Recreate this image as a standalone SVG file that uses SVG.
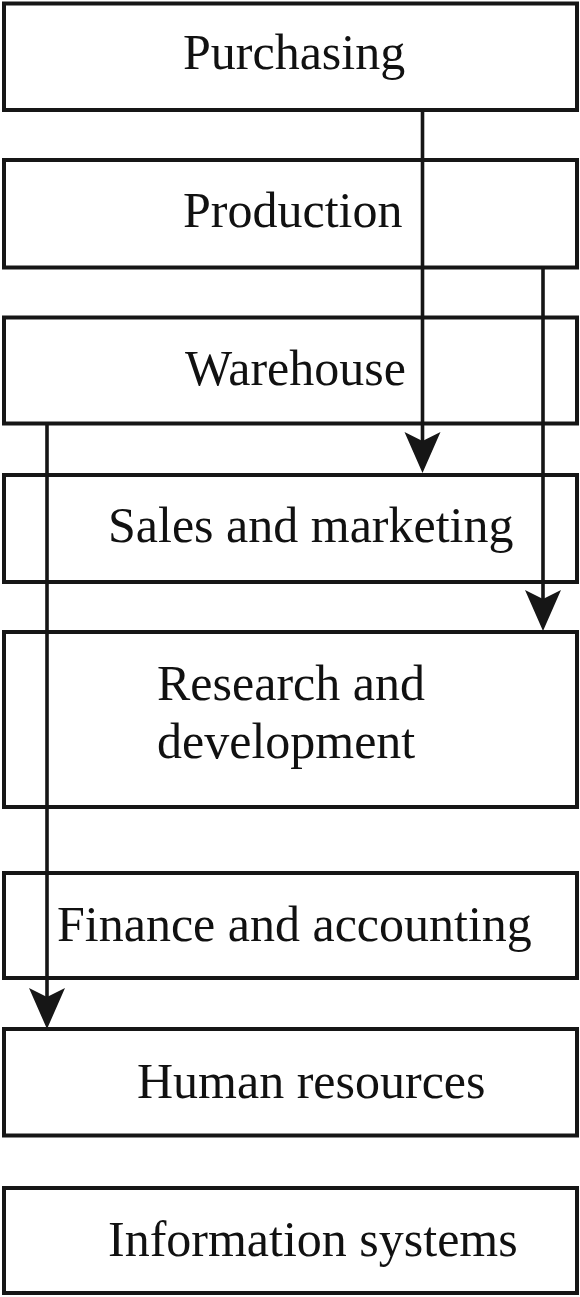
<svg xmlns="http://www.w3.org/2000/svg" width="580" height="1297" viewBox="0 0 580 1297">
<defs>
<style>
.box{fill:#fff;stroke:#161616;stroke-width:4}
.lbl{font-family:"Liberation Serif","Times New Roman",serif;font-size:50px;fill:#111}
.wire{stroke:#161616;stroke-width:3.6;fill:none}
.head{fill:#161616}
</style>
</defs>
<rect width="580" height="1297" fill="#fff"/>
<g id="n-purchasing"><rect class="box" x="4" y="3.5" width="573" height="106.5"/><text class="lbl" x="183" y="69">Purchasing</text></g>
<g id="n-production"><rect class="box" x="4" y="160" width="573" height="107.5"/><text class="lbl" x="183" y="227">Production</text></g>
<g id="n-warehouse"><rect class="box" x="4" y="317.5" width="573" height="106"/><text class="lbl" x="185" y="385">Warehouse</text></g>
<g id="n-sales"><rect class="box" x="4" y="475" width="573" height="107"/><text class="lbl" x="108" y="542">Sales and marketing</text></g>
<g id="n-rnd"><rect class="box" x="4" y="632" width="573" height="175"/><text class="lbl" x="157" y="700">Research and</text><text class="lbl" x="157" y="758">development</text></g>
<g id="n-finance"><rect class="box" x="4" y="873" width="573" height="105"/><text class="lbl" x="57" y="941">Finance and accounting</text></g>
<g id="n-hr"><rect class="box" x="4" y="1029" width="573" height="106.5"/><text class="lbl" x="137" y="1098">Human resources</text></g>
<g id="n-is"><rect class="box" x="4" y="1188" width="573" height="105"/><text class="lbl" x="108" y="1256">Information systems</text></g>
<g id="connectors">
<line class="wire" x1="422.5" y1="110" x2="422.5" y2="445"/>
<path class="head" d="M422.5 473 L404.5 432 L422.5 441 L440.5 432 Z"/>
<line class="wire" x1="543" y1="266" x2="543" y2="603"/>
<path class="head" d="M543 631 L525 590 L543 599 L561 590 Z"/>
<line class="wire" x1="47" y1="423" x2="47" y2="1001"/>
<path class="head" d="M47 1029 L29 988 L47 997 L65 988 Z"/>
</g>
</svg>
